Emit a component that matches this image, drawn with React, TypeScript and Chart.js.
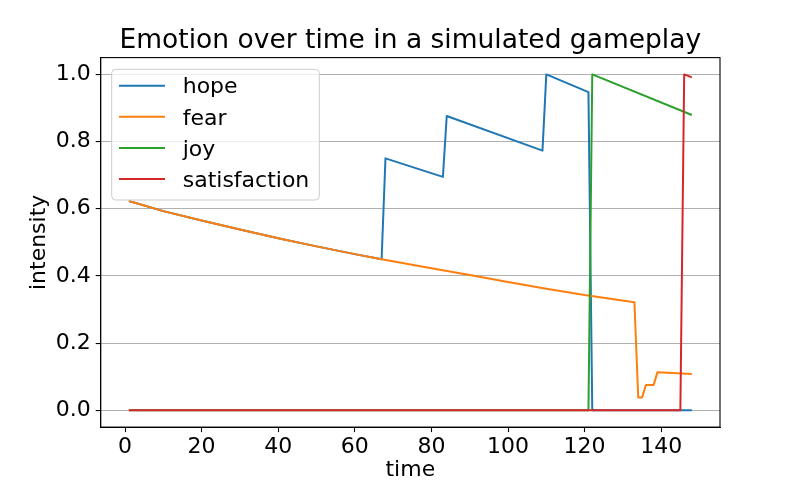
import React, { useEffect, useRef } from "react";
import { Chart, registerables } from "chart.js";

Chart.register(...registerables);

const FONT = "'DejaVu Sans', sans-serif";

const TITLE = "Emotion over time in a simulated gameplay";
const X_LABEL = "time";
const Y_LABEL = "intensity";
const SERIES_NAMES = ["hope", "fear", "joy", "satisfaction"];
const SERIES_COLORS = ["#1f77b4", "#ff7f0e", "#2ca02c", "#d62728"];
const X_TICKS = [0, 20, 40, 60, 80, 100, 120, 140];
const Y_TICKS = [0, 0.2, 0.4, 0.6, 0.8, 1.0];

// time steps (vertices) and intensities
const hopeT = [1, 10, 20, 30, 40, 50, 60, 67, 68, 83, 84, 109, 110, 121, 122, 148];
const hopeV = [0.623, 0.593, 0.565, 0.538, 0.512, 0.488, 0.465, 0.45, 0.75, 0.695, 0.876, 0.773, 1.0, 0.947, 0, 0];
const fearT = [1, 10, 20, 30, 40, 50, 60, 67, 80, 90, 100, 110, 120, 133, 134, 135, 136, 138, 139, 148];
const fearV = [0.623, 0.593, 0.565, 0.538, 0.512, 0.488, 0.465, 0.45, 0.423, 0.403, 0.382, 0.362, 0.343, 0.322, 0.038, 0.038, 0.075, 0.075, 0.113, 0.108];
const joyT = [1, 121, 122, 148];
const joyV = [0, 0, 1.0, 0.879];
const satT = [1, 145, 146, 148];
const satV = [0, 0, 1.0, 0.991];

const X_MIN = -6.35;
const X_MAX = 155.35;
const Y_MIN = -0.05;
const Y_MAX = 1.05;

const SERIES_T = [hopeT, fearT, joyT, satT];
const SERIES_V = [hopeV, fearV, joyV, satV];

const framePlugin = {
  id: "mplFrame",
  afterDatasetsDraw(chart: any) {
    const { ctx, chartArea } = chart;
    ctx.save();
    ctx.strokeStyle = "#000";
    ctx.lineWidth = 1.1;
    ctx.strokeRect(chartArea.left, chartArea.top, chartArea.right - chartArea.left, chartArea.bottom - chartArea.top);
    ctx.restore();
  },
};

const legendPlugin = {
  id: "mplLegend",
  afterDraw(chart: any) {
    const { ctx, chartArea } = chart;
    const x0 = chartArea.left + 11;
    const y0 = chartArea.top + 11.7;
    const w = 207.6;
    const h = 130.7;
    const r = 4;
    ctx.save();
    ctx.beginPath();
    ctx.moveTo(x0 + r, y0);
    ctx.lineTo(x0 + w - r, y0);
    ctx.arcTo(x0 + w, y0, x0 + w, y0 + r, r);
    ctx.lineTo(x0 + w, y0 + h - r);
    ctx.arcTo(x0 + w, y0 + h, x0 + w - r, y0 + h, r);
    ctx.lineTo(x0 + r, y0 + h);
    ctx.arcTo(x0, y0 + h, x0, y0 + h - r, r);
    ctx.lineTo(x0, y0 + r);
    ctx.arcTo(x0, y0, x0 + r, y0, r);
    ctx.closePath();
    ctx.fillStyle = "rgba(255,255,255,0.8)";
    ctx.fill();
    ctx.strokeStyle = "#cccccc";
    ctx.lineWidth = 1;
    ctx.stroke();
    ctx.font = `22px ${FONT}`;
    ctx.textBaseline = "middle";
    ctx.textAlign = "left";
    chart.data.datasets.forEach((ds: any, i: number) => {
      const y = y0 + 16.4 + i * 31.1;
      ctx.strokeStyle = ds.borderColor;
      ctx.lineWidth = 2;
      ctx.beginPath();
      ctx.moveTo(x0 + 7.3, y);
      ctx.lineTo(x0 + 53.3, y);
      ctx.stroke();
      ctx.fillStyle = "#000";
      ctx.fillText(ds.label, x0 + 71, y + 2);
    });
    ctx.restore();
  },
};

export default function App() {
  const canvasRef = useRef<HTMLCanvasElement | null>(null);

  useEffect(() => {
    const canvas = canvasRef.current;
    if (!canvas) return;
    const datasets = SERIES_NAMES.map((name, i) => ({
      label: name,
      data: SERIES_T[i].map((t, k) => ({ x: t, y: SERIES_V[i][k] })),
      borderColor: SERIES_COLORS[i],
      backgroundColor: SERIES_COLORS[i],
      borderWidth: 2,
      pointRadius: 0,
      tension: 0,
      fill: false,
      borderJoinStyle: "round" as const,
      order: SERIES_NAMES.length - 1 - i,
    }));

    const chart = new Chart(canvas, {
      type: "line",
      data: { datasets },
      plugins: [framePlugin, legendPlugin],
      options: {
        responsive: false,
        animation: false,
        devicePixelRatio: 1,
        layout: { padding: { left: 0, right: 80, top: 0, bottom: 0 } },
        plugins: {
          legend: { display: false },
          tooltip: { enabled: false },
          title: {
            display: true,
            fullSize: false,
            text: TITLE,
            color: "#000",
            font: { family: FONT, size: 26.5, weight: "normal" },
            padding: { top: 25, bottom: 0.8 },
          },
        },
        scales: {
          x: {
            type: "linear",
            min: X_MIN,
            max: X_MAX,
            afterBuildTicks: (s: any) => {
              s.ticks = X_TICKS.map((v) => ({ value: v }));
            },
            afterFit: (s: any) => {
              s.height = 52.9;
            },
            grid: {
              display: true,
              drawOnChartArea: false,
              drawTicks: true,
              tickLength: 5,
              tickColor: "#000",
              tickWidth: 1.1,
            },
            border: { display: true, color: "#000", width: 1.1 },
            ticks: {
              color: "#000",
              font: { family: FONT, size: 22 },
              padding: 2,
              maxRotation: 0,
              autoSkip: false,
              callback: (v: any) => String(v),
            },
            title: {
              display: true,
              text: X_LABEL,
              color: "#000",
              font: { family: FONT, size: 22 },
              padding: { top: 0, bottom: -3 },
            },
          },
          y: {
            type: "linear",
            min: Y_MIN,
            max: Y_MAX,
            afterBuildTicks: (s: any) => {
              s.ticks = Y_TICKS.map((v) => ({ value: v }));
            },
            afterFit: (s: any) => {
              s.width = 100.7;
            },
            grid: {
              display: true,
              drawOnChartArea: true,
              drawTicks: true,
              tickLength: 5,
              color: "#b0b0b0",
              lineWidth: 1.1,
              tickColor: "#000",
              tickWidth: 1.1,
            },
            border: { display: true, color: "#000", width: 1.1 },
            ticks: {
              color: "#000",
              font: { family: FONT, size: 22 },
              padding: 5,
              autoSkip: false,
              callback: (v: any) => Number(v).toFixed(1),
            },
            title: {
              display: true,
              text: Y_LABEL,
              color: "#000",
              font: { family: FONT, size: 22 },
              padding: { top: 25.6, bottom: 0 },
            },
          },
        },
      },
    } as any);

    return () => chart.destroy();
  }, []);

  return (
    <div style={{ position: "absolute", left: 0, top: 0, width: 800, height: 480, background: "#fff" }}>
      <canvas ref={canvasRef} width={800} height={480} style={{ width: 800, height: 480 }} />
    </div>
  );
}
